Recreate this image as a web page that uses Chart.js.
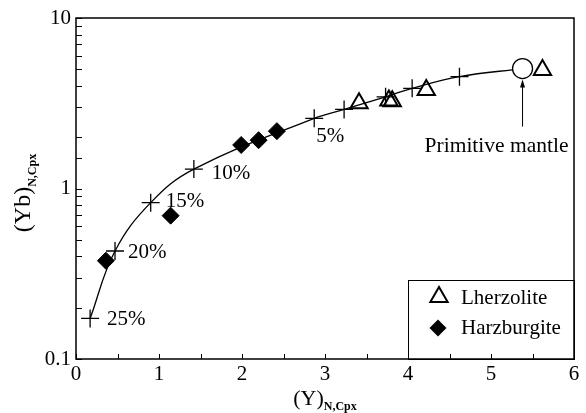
<!DOCTYPE html>
<html>
<head>
<meta charset="utf-8">
<script src="https://cdn.jsdelivr.net/npm/chart.js@4.4.1/dist/chart.umd.min.js"></script>
<style>
  html, body { margin: 0; padding: 0; background: #fff; }
</style>
</head>
<body>
<canvas id="grafico" width="586" height="413"></canvas>
<script>
/**********************************************
 *
 * (Yb)N,Cpx vs (Y)N,Cpx - curva de fusion
 *
 * ****************************************/

// curva de fusion: cruces (25 % ... 1 %), termina en el manto primitivo
var meltX = [0.17, 0.47, 0.90, 1.42, 2.87, 3.23, 3.73, 4.05, 4.62];
var meltY = [0.173, 0.43, 0.826, 1.30, 2.58, 2.91, 3.45, 3.87, 4.53];
var meltLabels = ['25%', '20%', '15%', '10%', '5%', '', '', '', ''];

// manto primitivo
var pmX = [5.38];
var pmY = [5.05];
var pmLabel = 'Primitive mantle';

// muestras
var lherzX = [3.41, 3.77, 3.81, 4.22, 5.62];
var lherzY = [3.16, 3.28, 3.25, 3.78, 4.95];
var harzX = [0.36, 1.14, 1.99, 2.20, 2.42];
var harzY = [0.377, 0.693, 1.80, 1.92, 2.17];

var legendNames = ['Lherzolite', 'Harzburgite'];
var yTickLabels = ['0.1', '1', '10'];
var xTitle = ['(Y)', 'N,Cpx'];
var yTitle = ['(Yb)', 'N,Cpx'];

function pares(xs, ys) {
    return xs.map(function (x, i) { return { x: x, y: ys[i] }; });
}

var curva = pares(meltX.concat(pmX), meltY.concat(pmY));
var radios = meltX.map(function () { return 9; }).concat([0]);

var serif = '"Liberation Serif", "DejaVu Serif", serif';

// desplazamiento de las etiquetas de porcentaje (px)
var offs = [[17, 1], [13, 1], [15, -1], [18, 4], [2, 18]];

var dibujos = {
    id: 'dibujos',
    afterDraw: function (chart) {
        var c = chart.ctx, a = chart.chartArea;
        var sx = chart.scales.x, sy = chart.scales.y;
        c.save();
        c.strokeStyle = '#000';
        c.fillStyle = '#000';

        // marco
        c.lineWidth = 1.5;
        c.strokeRect(a.left, a.top, a.right - a.left, a.bottom - a.top);

        // marcas hacia adentro
        c.lineWidth = 1;
        c.beginPath();
        sx.ticks.forEach(function (t) {
            var px = Math.round(sx.getPixelForValue(t.value)) + 0.5;
            c.moveTo(px, a.bottom);
            c.lineTo(px, a.bottom - 5);
        });
        sy.ticks.forEach(function (t) {
            var py = Math.round(sy.getPixelForValue(t.value)) + 0.5;
            c.moveTo(a.left, py);
            c.lineTo(a.left + 6, py);
        });
        c.stroke();

        // etiquetas de porcentaje
        c.font = '21px ' + serif;
        c.textAlign = 'left';
        c.textBaseline = 'middle';
        meltLabels.forEach(function (txt, i) {
            if (!txt) return;
            var px = sx.getPixelForValue(meltX[i]) + offs[i][0];
            var py = sy.getPixelForValue(meltY[i]) + offs[i][1];
            c.fillText(txt, px, py);
        });

        // manto primitivo con flecha
        var cx = sx.getPixelForValue(pmX[0]), cy = sy.getPixelForValue(pmY[0]);
        c.font = '21.5px ' + serif;
        c.textAlign = 'center';
        c.textBaseline = 'alphabetic';
        c.fillText(pmLabel, cx - 26, cy + 83);
        c.lineWidth = 1;
        c.beginPath();
        c.moveTo(cx, cy + 58);
        c.lineTo(cx, cy + 14);
        c.stroke();
        c.beginPath();
        c.moveTo(cx, cy + 11);
        c.lineTo(cx - 2.5, cy + 19);
        c.lineTo(cx + 2.5, cy + 19);
        c.closePath();
        c.fill();

        // leyenda
        var lx = a.right - 166, ly = a.bottom - 79;
        c.lineWidth = 1;
        c.strokeRect(lx + 0.5, ly + 0.5, a.right - lx, a.bottom - ly);
        var tx = lx + 31, ty = ly + 17, r = 10;
        c.lineWidth = 2;
        c.beginPath();
        c.moveTo(tx, ty - r);
        c.lineTo(tx + r * 0.866, ty + r * 0.5);
        c.lineTo(tx - r * 0.866, ty + r * 0.5);
        c.closePath();
        c.stroke();
        var dx = lx + 30, dy = ly + 48, d = 8.5;
        c.beginPath();
        c.moveTo(dx, dy - d);
        c.lineTo(dx + d, dy);
        c.lineTo(dx, dy + d);
        c.lineTo(dx - d, dy);
        c.closePath();
        c.fill();
        c.font = '21px ' + serif;
        c.textAlign = 'left';
        c.textBaseline = 'middle';
        c.fillText(legendNames[0], lx + 53, ly + 18);
        c.fillText(legendNames[1], lx + 53, ly + 48);

        // titulo eje x
        c.textBaseline = 'alphabetic';
        c.font = '22px ' + serif;
        var w1 = c.measureText(xTitle[0]).width;
        c.font = 'bold 12px ' + serif;
        var w2 = c.measureText(xTitle[1]).width;
        var x0 = (a.left + a.right) / 2 - (w1 + w2) / 2;
        c.font = '22px ' + serif;
        c.fillText(xTitle[0], x0, 405);
        c.font = 'bold 12px ' + serif;
        c.fillText(xTitle[1], x0 + w1, 410);

        // titulo eje y
        c.translate(30, 193);
        c.rotate(-Math.PI / 2);
        c.font = '24px ' + serif;
        w1 = c.measureText(yTitle[0]).width;
        c.font = 'bold 12px ' + serif;
        w2 = c.measureText(yTitle[1]).width;
        c.font = '24px ' + serif;
        c.fillText(yTitle[0], -(w1 + w2) / 2, 0);
        c.font = 'bold 12px ' + serif;
        c.fillText(yTitle[1], -(w1 + w2) / 2 + w1, 6);
        c.restore();
    }
};

var ctx = document.getElementById('grafico').getContext('2d');

var chart = new Chart(ctx, {
    type: 'scatter',
    data: {
        datasets: [{
            label: 'melting',
            type: 'line',
            order: 4,
            data: curva,
            showLine: true,
            tension: 0.4,
            borderColor: '#000',
            borderWidth: 1.3,
            pointStyle: 'cross',
            pointRadius: radios,
            pointBorderColor: '#000',
            pointBorderWidth: 1.3,
            fill: false
        }, {
            label: legendNames[1],
            order: 2,
            data: pares(harzX, harzY),
            pointStyle: 'rectRot',
            pointRadius: 8.5,
            backgroundColor: '#000',
            borderColor: '#000',
            borderWidth: 1
        }, {
            label: legendNames[0],
            order: 1,
            data: pares(lherzX, lherzY),
            pointStyle: 'triangle',
            pointRadius: 10,
            backgroundColor: 'rgba(0,0,0,0)',
            borderColor: '#000',
            borderWidth: 2
        }, {
            label: pmLabel,
            order: 0,
            data: pares(pmX, pmY),
            pointStyle: 'circle',
            pointRadius: 10,
            backgroundColor: '#fff',
            borderColor: '#000',
            borderWidth: 1.3
        }]
    },
    options: {
        responsive: false,
        animation: false,
        layout: {
            padding: { top: 18, right: 7, left: 0, bottom: 0 }
        },
        plugins: {
            legend: { display: false },
            tooltip: { enabled: false }
        },
        scales: {
            x: {
                type: 'linear',
                min: 0,
                max: 6,
                grid: { display: false, drawTicks: false },
                border: { display: false },
                ticks: {
                    stepSize: 0.5,
                    autoSkip: false,
                    maxRotation: 0,
                    padding: 3,
                    color: '#000',
                    font: { family: serif, size: 21 },
                    callback: function (v) {
                        return Number.isInteger(v) ? String(v) : '';
                    }
                },
                afterFit: function (s) { s.height = 54; }
            },
            y: {
                type: 'logarithmic',
                min: 0.1,
                max: 10,
                grid: { display: false, drawTicks: false },
                border: { display: false },
                ticks: {
                    autoSkip: false,
                    padding: 5,
                    color: '#000',
                    font: { family: serif, size: 21 },
                    callback: function (v) {
                        var e = Math.log10(v);
                        if (Math.abs(e - Math.round(e)) > 1e-6) return '';
                        return yTickLabels[Math.round(e) + 1];
                    }
                },
                afterFit: function (s) { s.width = 76; }
            }
        }
    },
    plugins: [dibujos]
});
</script>
</body>
</html>
